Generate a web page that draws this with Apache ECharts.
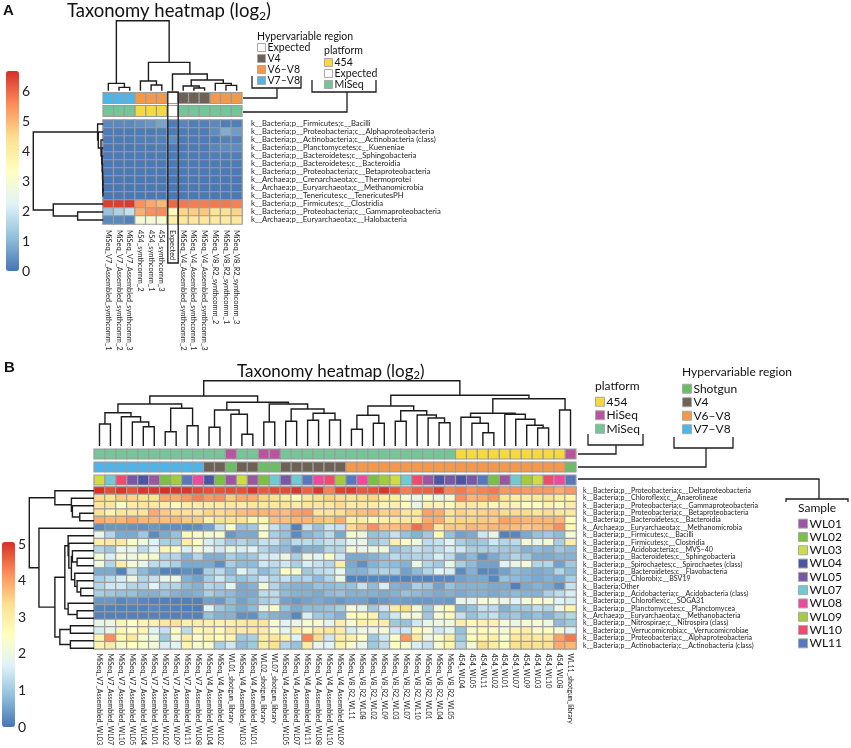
<!DOCTYPE html>
<html><head><meta charset="utf-8">
<style>html,body{margin:0;padding:0;background:#fff}#c{width:851px;height:748px}</style>
<script src="https://cdn.jsdelivr.net/npm/echarts@6/dist/echarts.min.js"></script>
</head><body><div id="c"></div>
<script>
const FONT='Lato';
const RAMP=['#4575B4','#91BFDB','#E0F3F8','#FFFFBF','#FEE090','#FC8D59','#D73027'];
const colsA=['MiSeq_V7_Assembled_synthcomm_1','MiSeq_V7_Assembled_synthcomm_2','MiSeq_V7_Assembled_synthcomm_3','454_synthcomm_2','454_synthcomm_1','454_synthcomm_3','Expected','MiSeq_V4_Assembled_synthcomm_2','MiSeq_V4_Assembled_synthcomm_1','MiSeq_V4_Assembled_synthcomm_3','MiSeq_V8_R2_synthcomm_2','MiSeq_V8_R2_synthcomm_1','MiSeq_V8_R2_synthcomm_3'];
const rowsA=['k__Bacteria;p__Firmicutes;c__Bacilli','k__Bacteria;p__Proteobacteria;c__Alphaproteobacteria','k__Bacteria;p__Actinobacteria;c__Actinobacteria (class)','k__Bacteria;p__Planctomycetes;c__Kueneniae','k__Bacteria;p__Bacteroidetes;c__Sphingobacteria','k__Bacteria;p__Bacteroidetes;c__Bacteroidia','k__Bacteria;p__Proteobacteria;c__Betaproteobacteria','k__Archaea;p__Crenarchaeota;c__Thermoprotei','k__Archaea;p__Euryarchaeota;c__Methanomicrobia','k__Bacteria;p__Tenericutes;c__TenericutesPH','k__Bacteria;p__Firmicutes;c__Clostridia','k__Bacteria;p__Proteobacteria;c__Gammaproteobacteria','k__Archaea;p__Euryarchaeota;c__Halobacteria'];
const valuesA=[
[.3,.3,.3,.4,.5,.7,.12,.25,.15,.2,.3,.15,.15],
[.1,.1,.1,.1,.1,.15,.1,.1,.1,.1,.35,.85,.6],
[.1,.1,.1,.15,.15,.2,.35,.1,.1,.1,.1,.2,.2],
[.08,.08,.08,.1,.1,.15,.1,.08,.1,.1,.25,.35,.35],
[.1,.1,.1,.1,.1,.1,.1,.1,.1,.1,.15,.15,.15],
[.08,.08,.08,.08,.08,.08,.08,.08,.08,.08,.1,.1,.1],
[.08,.08,.08,.08,.08,.08,.08,.08,.08,.08,.1,.08,.08],
[.05,.05,.05,.05,.05,.05,.05,.05,.05,.05,.05,.05,.05],
[.05,.05,.05,.05,.05,.05,.05,.05,.05,.05,.05,.05,.05],
[.05,.05,.05,.05,.05,.05,.05,.05,.05,.05,.05,.05,.05],
[6.5,6.5,6.55,5.5,5.2,5.0,6.0,5.8,5.75,5.75,5.8,5.8,5.7],
[1.2,1.5,1.8,5.1,5.5,5.6,3.5,4.6,4.7,4.8,4.3,4.4,4.6],
[.3,.3,.2,2.9,2.9,3.0,3.9,4.2,4.2,4.2,4.1,4.1,4.1]];
const regionA=['V7–V8','V7–V8','V7–V8','V6–V8','V6–V8','V6–V8','Expected','V4','V4','V4','V6–V8','V6–V8','V6–V8'];
const platformA=['MiSeq','MiSeq','MiSeq','454','454','454','Expected','MiSeq','MiSeq','MiSeq','MiSeq','MiSeq','MiSeq'];
const colTreeA=[70,[7.3,0,[3.3,1,2]],[28.3,[9.7,3,[5.7,4,5]],[16.7,6,[10.7,[4.7,7,[2.7,8,9]],[7.3,10,[5.3,11,12]]]]]];
const rowTreeA=[70,[5.7,0,[5,1,[2.3,2,[1.5,3,[1.1,4,[.8,5,[.6,6,[.4,7,[.3,8,9]]]]]]]]],[50,10,[25.7,11,12]]];

const colsB=['MiSeq_V7_Assembled_WL03','MiSeq_V7_Assembled_WL07','MiSeq_V7_Assembled_WL10','MiSeq_V7_Assembled_WL05','MiSeq_V7_Assembled_WL04','MiSeq_V7_Assembled_WL01','MiSeq_V7_Assembled_WL02','MiSeq_V7_Assembled_WL09','MiSeq_V7_Assembled_WL11','MiSeq_V7_Assembled_WL08','MiSeq_V4_Assembled_WL04','MiSeq_V4_Assembled_WL02','WL01_shotgun_library','MiSeq_V4_Assembled_WL03','MiSeq_V4_Assembled_WL01','WL02_shotgun_library','WL07_shotgun_library','MiSeq_V4_Assembled_WL05','MiSeq_V4_Assembled_WL07','MiSeq_V4_Assembled_WL11','MiSeq_V4_Assembled_WL08','MiSeq_V4_Assembled_WL10','MiSeq_V4_Assembled_WL09','MiSeq_V8_R2_WL11','MiSeq_V8_R2_WL08','MiSeq_V8_R2_WL02','MiSeq_V8_R2_WL09','MiSeq_V8_R2_WL03','MiSeq_V8_R2_WL07','MiSeq_V8_R2_WL10','MiSeq_V8_R2_WL01','MiSeq_V8_R2_WL04','MiSeq_V8_R2_WL05','454_WL04','454_WL05','454_WL11','454_WL02','454_WL01','454_WL07','454_WL09','454_WL03','454_WL10','454_WL08','WL11_shotgun_library'];
const rowsB=['k__Bacteria;p__Proteobacteria;c__Deltaproteobacteria','k__Bacteria;p__Chloroflexi;c__Anaerolineae','k__Bacteria;p__Proteobacteria;c__Gammaproteobacteria','k__Bacteria;p__Proteobacteria;c__Betaproteobacteria','k__Bacteria;p__Bacteroidetes;c__Bacteroidia','k__Archaea;p__Euryarchaeota;c__Methanomicrobia','k__Bacteria;p__Firmicutes;c__Bacilli','k__Bacteria;p__Firmicutes;c__Clostridia','k__Bacteria;p__Acidobacteria;c__MVS–40','k__Bacteria;p__Bacteroidetes;c__Sphingobacteria','k__Bacteria;p__Spirochaetes;c__Spirochaetes (class)','k__Bacteria;p__Bacteroidetes;c__Flavobacteria','k__Bacteria;p__Chlorobi;c__BSV19','k__Bacteria;Other','k__Bacteria;p__Acidobacteria;c__Acidobacteria (class)','k__Bacteria;p__Chloroflexi;c__SOGA31','k__Bacteria;p__Planctomycetes;c__Planctomycea','k__Archaea;p__Euryarchaeota;c__Methanobacteria','k__Bacteria;p__Nitrospirae;c__Nitrospira (class)','k__Bacteria;p__Verrucomicrobia;c__Verrucomicrobiae','k__Bacteria;p__Proteobacteria;c__Alphaproteobacteria','k__Bacteria;p__Actinobacteria;c__Actinobacteria (class)'];
const valuesB=[
[5.1,4.8,5.0,4.75,5.0,5.0,5.1,5.0,5.0,4.85,4.75,4.75,4.8,4.75,5.0,4.7,4.8,4.8,5.0,4.6,5.0,4.3,4.9,4.95,4.7,4.75,5.0,4.7,4.35,4.6,4.6,4.9,4.3,4.4,4.2,4.3,4.4,4.1,4.2,4.1,4.1,4.1,3.9,4.1],
[3.4,3.3,3.6,3.5,3.3,3.3,3.95,3.9,4.1,4.35,4.1,4.2,3.6,3.9,3.9,3.5,3.3,3.0,2.5,3.1,3.3,3.5,3.3,3.2,3.3,3.5,3.0,3.0,2.2,2.0,2.3,2.0,2.2,4.2,3.8,3.9,4.1,3.2,3.0,3.0,3.1,3.3,3.0,2.8],
[3.2,3.2,2.3,3.0,3.2,3.1,3.0,2.6,3.0,3.0,3.0,3.0,3.1,3.0,3.2,3.1,3.1,3.2,3.0,3.2,3.2,3.1,3.4,3.0,3.1,3.0,2.8,2.9,2.6,1.9,2.9,2.8,2.6,3.1,3.1,3.0,2.7,2.9,2.8,2.5,2.5,2.8,2.6,3.0],
[3.3,2.8,3.2,3.2,3.2,3.9,3.6,3.4,3.3,3.2,3.5,3.4,3.5,3.7,3.8,3.8,3.8,3.7,4.0,4.1,3.2,3.2,3.3,3.6,3.7,3.8,3.5,3.6,3.2,3.2,4.0,3.9,3.2,3.5,3.4,3.5,3.6,3.4,3.4,3.4,3.2,3.4,3.2,3.1],
[3.9,3.8,3.8,4.0,3.8,3.8,3.7,3.8,3.6,3.6,2.9,3.3,3.3,3.3,2.8,2.8,3.7,3.7,3.8,3.8,3.7,3.6,3.9,2.9,3.0,2.7,2.9,3.1,3.1,3.1,3.9,3.9,3.3,3.5,3.5,3.6,3.6,4.0,3.9,3.8,3.8,3.8,3.8,2.6],
[.25,.4,.4,.35,.3,.4,.3,.3,.25,.3,.5,1.4,2.4,.9,1.0,2.2,1.4,1.0,.15,1.4,.9,1.5,1.4,3.4,3.7,4.2,3.7,3.7,3.9,4.5,4.2,3.1,3.6,3.6,3.8,3.7,3.8,3.8,3.7,3.6,3.7,3.8,4.2,2.7],
[2.0,1.2,.6,.6,1.0,.25,.6,.9,2.7,2.4,2.2,2.3,.4,.6,.6,2.4,1.1,.9,.25,.7,.9,1.3,.6,2.2,2.0,.9,1.0,1.4,.9,.7,1.0,2.6,.9,.5,.6,1.5,1.9,.15,.2,.6,.9,1.0,.8,2.2],
[3.0,3.1,3.1,2.4,2.1,1.7,1.1,1.1,3.0,2.5,1.6,1.4,1.0,1.2,1.0,1.4,1.4,.9,1.3,1.3,1.2,1.4,1.4,1.8,1.9,1.0,1.2,2.9,2.4,2.1,1.3,1.4,1.7,1.1,.9,1.0,1.5,1.2,1.3,2.2,1.9,2.2,1.1,3.0],
[1.2,1.0,2.0,1.9,1.3,1.7,2.8,2.4,1.6,2.2,1.8,1.5,2.0,1.6,1.7,1.2,.9,.8,.4,.7,.7,1.2,1.2,2.2,1.9,2.0,2.1,.9,1.1,1.4,1.2,1.3,1.6,1.5,1.1,1.1,1.1,1.0,1.0,.7,.8,.7,1.0,.8],
[2.2,1.6,2.2,2.1,2.3,2.3,1.2,1.2,.7,1.2,.65,.65,1.1,.9,1.0,1.5,1.6,2.0,1.1,2.0,1.7,2.4,1.5,.6,.6,.7,.9,1.3,1.1,1.2,1.2,1.6,1.3,.55,.8,.3,.6,.9,1.2,1.0,.6,.6,.7,.7],
[2.1,1.2,3.0,2.2,1.9,1.3,1.3,1.1,.6,.6,.6,.3,1.1,.8,.8,1.5,1.3,1.5,1.1,1.6,1.4,1.2,3.0,.6,.3,.7,.9,.8,.7,2.0,1.2,1.0,1.9,1.1,.8,.5,.5,1.7,1.9,2.2,1.2,1.2,.5,1.0],
[.6,.6,.15,1.3,.8,.5,.15,.15,.3,.15,1.1,1.3,.8,1.8,1.3,.8,1.1,2.5,2.3,1.0,1.3,1.4,1.9,.7,.7,1.0,1.2,1.1,.5,.8,1.2,1.7,1.6,.25,.7,.2,.25,.5,.8,.7,.6,.7,1.2,.8],
[1.1,1.3,1.6,2.0,1.2,1.4,1.9,2.0,.7,.5,1.1,1.5,1.1,.9,1.1,1.5,1.2,1.4,1.1,1.2,.8,1.2,2.0,.15,.15,.2,.2,.2,.15,.2,.15,.2,.2,.5,.6,.6,.2,.9,.8,.7,.6,.7,.6,1.1],
[1.2,1.5,1.5,1.2,1.2,1.7,1.2,1.2,.8,.7,1.2,1.1,1.8,.6,.7,2.2,1.2,.8,.7,.7,.9,.8,.9,.9,1.4,.8,1.6,.7,.6,1.1,1.0,.5,.9,.7,.7,.7,.6,.6,.15,.6,.7,.6,.3,1.4],
[1.1,1.0,.9,.9,.7,.7,.9,.7,.6,.7,1.1,.9,.8,.6,.6,1.3,1.3,.8,.7,.7,.6,.8,.9,.7,.7,.7,.6,.7,.9,.8,.7,.6,.7,.6,.7,.7,.6,.7,.8,.7,.7,1.1,1.3,1.6],
[.4,.4,.2,.3,.2,.15,.15,.15,.15,.15,.5,.4,.8,.5,.7,1.1,1.2,.5,.4,.5,.6,.5,.4,.5,.5,.3,.4,.5,.45,.4,.4,.45,.4,1.9,1.8,2.2,2.1,2.0,1.7,2.2,2.4,2.2,1.7,1.6],
[.15,.15,.15,.15,.15,.2,.15,.15,.1,.1,1.7,1.0,.8,.6,.8,1.9,2.4,.9,.6,.8,.8,.9,1.1,2.3,1.8,1.0,1.5,3.0,3.4,2.2,1.0,2.2,2.6,.7,.9,1.4,1.3,.7,1.0,1.0,1.3,1.2,2.0,2.8],
[.15,.15,.15,.15,.15,.15,.15,.15,.15,.15,.9,.7,.7,.3,.3,.9,.7,.6,.2,1.6,1.0,.9,.7,2.4,2.7,2.8,1.0,1.5,2.2,2.2,1.0,2.2,2.6,1.4,.9,1.2,1.4,.9,1.0,.7,.9,.7,1.0,1.2],
[1.9,2.0,2.8,2.5,2.8,2.9,3.2,3.3,2.9,3.0,2.9,2.9,2.9,3.1,3.2,3.2,2.3,1.7,2.0,2.3,2.3,1.8,3.0,2.2,2.9,2.9,3.0,1.0,.9,1.5,1.9,2.0,2.1,3.0,2.7,2.9,2.9,2.2,2.0,2.3,2.3,2.1,.8,1.0],
[1.6,1.9,2.7,2.5,2.8,1.8,1.4,2.6,1.3,2.8,2.9,2.7,3.1,3.0,3.1,3.0,2.4,1.8,2.9,2.6,3.1,3.2,3.0,1.6,2.1,2.0,2.2,1.5,1.5,2.6,2.2,1.5,1.8,.9,2.3,2.7,2.5,2.2,2.8,3.0,2.4,2.6,2.2,1.7],
[2.8,4.2,2.8,3.1,2.3,2.1,1.0,2.2,3.0,2.3,2.8,2.6,2.8,1.0,1.1,3.0,3.2,2.9,1.7,4.3,3.4,1.5,3.0,2.9,2.5,1.0,1.5,2.4,4.1,3.1,2.0,2.4,3.0,1.0,2.6,2.8,2.9,2.3,3.1,3.2,3.1,3.1,4.0,4.4],
[2.8,3.0,2.3,2.5,2.4,2.2,1.6,1.7,2.8,2.3,2.4,1.1,1.5,.8,1.0,3.0,3.3,1.2,.9,3.0,1.9,1.7,2.9,2.3,1.9,1.0,1.3,2.5,2.3,1.6,1.4,2.3,2.8,1.2,2.2,3.4,3.0,2.5,3.3,3.4,3.3,3.3,3.9,3.8]];
const platformB=['MiSeq','MiSeq','MiSeq','MiSeq','MiSeq','MiSeq','MiSeq','MiSeq','MiSeq','MiSeq','MiSeq','MiSeq','HiSeq','MiSeq','MiSeq','HiSeq','HiSeq','MiSeq','MiSeq','MiSeq','MiSeq','MiSeq','MiSeq','MiSeq','MiSeq','MiSeq','MiSeq','MiSeq','MiSeq','MiSeq','MiSeq','MiSeq','MiSeq','454','454','454','454','454','454','454','454','454','454','HiSeq'];
const regionB=['V7–V8','V7–V8','V7–V8','V7–V8','V7–V8','V7–V8','V7–V8','V7–V8','V7–V8','V7–V8','V4','V4','Shotgun','V4','V4','Shotgun','Shotgun','V4','V4','V4','V4','V4','V4','V6–V8','V6–V8','V6–V8','V6–V8','V6–V8','V6–V8','V6–V8','V6–V8','V6–V8','V6–V8','V6–V8','V6–V8','V6–V8','V6–V8','V6–V8','V6–V8','V6–V8','V6–V8','V6–V8','V6–V8','Shotgun'];
const sampleB=['WL03','WL07','WL10','WL05','WL04','WL01','WL02','WL09','WL11','WL08','WL04','WL02','WL01','WL03','WL01','WL02','WL07','WL05','WL07','WL11','WL08','WL10','WL09','WL11','WL08','WL02','WL09','WL03','WL07','WL10','WL01','WL04','WL05','WL04','WL05','WL11','WL02','WL01','WL07','WL09','WL03','WL10','WL08','WL11'];
const colTreeB=[65.3,[50,[42,[33.3,[22,0,1],[29.3,2,[24,3,[19.3,4,5]]]],[37.7,[14.3,6,7],[20.3,8,9]]],[43.7,[36,[18.7,10,11],[31.7,12,[11.7,13,14]]],[42,[24,15,16],[37,[24.7,17,18],[32.7,[25.7,19,20],[26,21,22]]]]]],[50.7,[40,[30.7,[16.7,23,24],[22.7,25,26]],[35.3,[24.7,27,28],[31,29,[28,30,[23.3,31,32]]]]],[47.3,[32.7,[28.7,33,[22.7,34,[13.3,35,36]]],[31.7,37,[26.7,38,[20.7,39,[18,40,41]]]]],[36,42,43]]]];
const rowTreeB=[65,[39.3,0,[22.7,1,[21.7,2,[14.3,3,4]]]],[55.3,5,[39.3,[29.3,[26,6,[25.3,7,[22.7,[21.7,8,[17,9,10]],[19.3,11,[17,12,[13.3,13,14]]]]]],[26,15,[17,16,17]]],[34.3,[23.7,18,19],[23.7,20,21]]]]];
const categoryColors={'Expected':'#FFFFFF','V4':'#6E6256','V6–V8':'#F5984A','V7–V8':'#4DB5EA','Shotgun':'#6CBE65','454':'#F7D83F','HiSeq':'#B9559F','MiSeq':'#76C599','WL01':'#9A55A3','WL02':'#7AC143','WL03':'#CFDD45','WL04':'#4C55A5','WL05':'#7657A8','WL07':'#6DCBD3','WL08':'#EE4A9D','WL09':'#A2CD3A','WL10':'#F04A6E','WL11':'#5578BF'};

const EDGE='#9C9C9C', INK='#1c1c1c';
const grids=[],xAxes=[],yAxes=[],series=[];
function addGrid(g,x,y){grids.push(g);const i=grids.length-1;xAxes.push(Object.assign({gridIndex:i},x));yAxes.push(Object.assign({gridIndex:i},y));return i;}
const hiddenCat=d=>({type:'category',data:d,axisLine:{show:false},axisTick:{show:false},axisLabel:{show:false},splitLine:{show:false}});
const hiddenVal=(min,max,inv)=>({type:'value',min,max,inverse:!!inv,axisLine:{show:false},axisTick:{show:false},axisLabel:{show:false},splitLine:{show:false}});

function heat(box,cols,rows,vals,fx,fy,mx,my){
  const i=addGrid(box,
   {type:'category',data:cols,axisLine:{show:false},axisTick:{show:false},splitLine:{show:false},splitArea:{show:false},
    axisLabel:{interval:0,rotate:-90,fontSize:fx,fontFamily:FONT,color:'#222',margin:mx}},
   {type:'category',data:rows,inverse:true,position:'right',axisLine:{show:false},axisTick:{show:false},splitLine:{show:false},
    axisLabel:{interval:0,fontSize:fy,fontFamily:FONT,color:'#222',margin:my}});
  const data=[];vals.forEach((r,y)=>r.forEach((v,x)=>data.push([x,y,v])));
  series.push({type:'heatmap',xAxisIndex:i,yAxisIndex:i,data,itemStyle:{borderColor:EDGE,borderWidth:1.2},emphasis:{disabled:true},progressive:0,animation:false});
}
function annot(box,cols,tracks,cellH){
  const names=tracks.map((t,i)=>'t'+i);
  const i=addGrid(box,hiddenCat(cols),Object.assign(hiddenCat(names),{inverse:true}));
  tracks.forEach((t,r)=>{
    [...new Set(t)].forEach(cat=>{
      const data=[];t.forEach((c,x)=>{if(c===cat)data.push([x,r]);});
      series.push({type:'custom',name:cat,xAxisIndex:i,yAxisIndex:i,data,animation:false,silent:true,
        itemStyle:{color:categoryColors[cat]},
        renderItem:(p,api)=>{const c=api.coord([api.value(0),api.value(1)]);const w=api.size([1,0])[0];
          return {type:'rect',shape:{x:c[0]-w/2,y:c[1]-cellH/2,width:w,height:cellH},style:{fill:categoryColors[cat],stroke:EDGE,lineWidth:1.2}};}});
    });
  });
}
function flatten(n,segs){ if(typeof n==='number')return {p:n,h:0};
  const l=flatten(n[1],segs),r=flatten(n[2],segs);segs.push([l.p,l.h,r.p,r.h,n[0]]);return {p:(l.p+r.p)/2,h:n[0]};}
function dendro(box,tree,n,horizontal){
  const segs=[];flatten(tree,segs);
  const top=tree[0];
  const i=horizontal?addGrid(box,hiddenVal(0,top,true),hiddenVal(-.5,n-.5,true)):addGrid(box,hiddenVal(-.5,n-.5),hiddenVal(0,top));
  series.push({type:'custom',xAxisIndex:i,yAxisIndex:i,data:segs,animation:false,silent:true,clip:false,
    dimensions:['a','b','c','d','e'],encode:horizontal?{x:1,y:0}:{x:0,y:1},
    renderItem:(p,api)=>{const v=k=>api.value(k);const pt=(pos,h)=>api.coord(horizontal?[h,pos]:[pos,h]);
      return {type:'polyline',shape:{points:[pt(v(0),v(1)),pt(v(0),v(4)),pt(v(2),v(4)),pt(v(2),v(3))]},style:{fill:'none',stroke:INK,lineWidth:1.4}};}});
}
function scale(box,max){
  addGrid(box,hiddenVal(0,1),{type:'value',min:0,max,interval:1,position:'right',axisLine:{show:false},axisTick:{show:false},splitLine:{show:false},
    axisLabel:{show:true,fontSize:14,fontFamily:FONT,color:'#222',margin:3,showMaxLabel:false}});
}
heat({left:103,top:120,width:139,height:104},colsA,rowsA,valuesA,7.4,7.7,6,9);
heat({left:94,top:487,width:482,height:165},colsB,rowsB,valuesB,7.1,7.1,4.5,7);
annot({left:103,top:91.5,width:139,height:26},colsA,[regionA,platformA],11);
annot({left:94,top:447.5,width:482,height:39},colsB,[platformB,regionB,sampleB],10);
dendro({left:103,top:20.7,width:139,height:70},colTreeA,13,false);
dendro({left:33.3,top:120,width:70,height:104},rowTreeA,13,true);
dendro({left:94,top:380.7,width:482,height:65.3},colTreeB,44,false);
dendro({left:29.3,top:487,width:64.7,height:165},rowTreeB,22,true);
scale({left:6,top:71,width:13,height:200},6.67);
scale({left:2,top:542,width:13,height:185},5.06);

const bar=(top,left,h,max,si)=>({type:'continuous',seriesIndex:si,min:0,max,left,top,itemWidth:13,itemHeight:h,padding:0,calculable:false,showLabel:false,text:null,inRange:{color:RAMP},hoverLink:false,orient:'vertical'});
const leg=(left,top,data,fs,size,pitch)=>({left,top,data,orient:'vertical',selectedMode:false,padding:0,itemGap:0,itemWidth:size,itemHeight:size,icon:'rect',
  itemStyle:{borderColor:'#A9A9A9',borderWidth:1},textStyle:{fontSize:fs,fontFamily:FONT,color:'#111',padding:[0,0,0,-3],lineHeight:pitch}});
const head=(text,left,top,fs)=>({text,left,top,padding:0,textStyle:{fontSize:fs,fontWeight:'normal',fontFamily:FONT,color:'#111'}});
const richTitle=(left,top,fs)=>({text:'{a|Taxonomy heatmap (log}{b|2}{a|)}',left,top,padding:0,textStyle:{fontWeight:'normal',rich:{a:{fontSize:fs,fontWeight:'normal',fontFamily:FONT,color:'#111'},b:{fontSize:fs*.66,fontWeight:'normal',fontFamily:FONT,color:'#111',padding:[fs*.55,0,0,0]}}}});
const poly=pts=>({type:'polyline',shape:{points:pts},style:{fill:'none',stroke:INK,lineWidth:1.3},silent:true});

const option={animation:false,backgroundColor:'#fff',
 title:[
  {text:'A',left:3,top:3,padding:0,textStyle:{fontSize:15,fontWeight:'bold',fontFamily:'Liberation Sans',color:'#111'}},
  {text:'B',left:4,top:360,padding:0,textStyle:{fontSize:15,fontWeight:'bold',fontFamily:'Liberation Sans',color:'#111'}},
  richTitle(67,0,18.5),richTitle(237,361,17),
  head('Hypervariable region',257,31,10.5),head('platform',324,45,10.5),
  head('platform',595,380,12),head('Hypervariable region',682,366,12),head('Sample',798,502,12)],
 grid:grids,xAxis:xAxes,yAxis:yAxes,series,
 visualMap:[bar(71,6,200,6.67,0),bar(542,2,185,5.06,1)],
 legend:[
  leg(257,42,['Expected','V4','V6–V8','V7–V8'],10.5,8,11),
  leg(324,57,['454','Expected','MiSeq'],10.5,8,11),
  leg(595,395,['454','HiSeq','MiSeq'],12,9,13.5),
  leg(682,382,['Shotgun','V4','V6–V8','V7–V8'],12,9,13.5),
  leg(798,517,['WL01','WL02','WL03','WL04','WL05','WL07','WL08','WL09','WL10','WL11'],12,9,13.3)],
 graphic:[
  {type:'rect',shape:{x:167.8,y:92,width:10.4,height:171},style:{fill:'none',stroke:INK,lineWidth:1.3},silent:true,z:100},
  poly([[252,76],[252,88],[301,88],[301,76]]),poly([[277,88],[277,98],[243,98]]),
  poly([[312,80],[312,92],[376,92],[376,80]]),poly([[347,92],[347,112],[243,112]]),
  poly([[588,434],[588,445],[643,445],[643,434]]),poly([[616,445],[616,454],[578,454]]),
  poly([[674,437],[674,448],[733,448],[733,437]]),poly([[706,448],[706,467],[578,467]]),
  poly([[786,502],[786,499],[848,499],[848,502]]),poly([[819,499],[819,479],[578,479]])]
};
echarts.init(document.getElementById('c'),null,{renderer:'canvas'}).setOption(option);
</script></body></html>
